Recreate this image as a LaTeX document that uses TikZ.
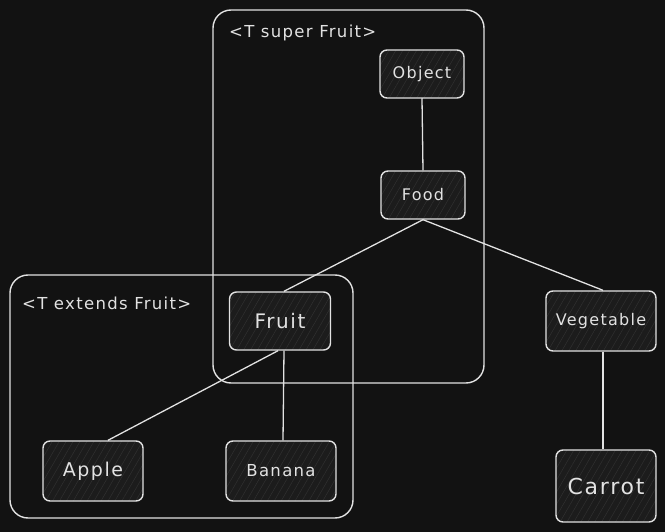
\documentclass[tikz,border=0pt]{standalone}
\usepackage{fontspec}
\setmainfont{DejaVu Sans}[LetterSpace=8]
\usetikzlibrary{patterns.meta}
\definecolor{bg}{HTML}{121212}
\definecolor{ink}{HTML}{E2E2E2}
\definecolor{boxfill}{HTML}{1C1C1C}
\definecolor{hatch}{HTML}{303030}
\tikzset{
  sk/.style={draw=ink, line width=1.4pt, rounded corners=7pt},
  cls/.style={sk, preaction={fill=boxfill}, pattern={Lines[angle=60,distance=6pt,line width=0.5pt]}, pattern color=hatch, minimum height=#1, text=ink, inner sep=0pt},
  cls/.default=48pt,
  grp/.style={draw=ink, line width=1.4pt, rounded corners=18pt},
  lbl/.style={text=ink, anchor=west, inner sep=0pt, font=\fontsize{16.5}{18}\selectfont},
  conn/.style={draw=ink, line width=1.3pt}
}
\begin{document}
\begin{tikzpicture}[x=1pt,y=-1pt]
\fill[bg] (0,0) rectangle (665,532);
\useasboundingbox (0,0) rectangle (665,532);
% containers
\draw[grp] (213,10) rectangle (484,383);
\draw[grp] (10,275) rectangle (353,518);
\node[lbl] (lsuper) at (229,33) {<T super Fruit>};
\node[lbl] (lext) at (22,303) {<T extends Fruit>};
% classes
\node[cls, minimum width=84pt, font=\fontsize{16}{18}\selectfont] (object) at (422,74) {Object};
\node[cls, minimum width=84pt, font=\fontsize{16}{18}\selectfont] (food) at (423,195) {Food};
\node[cls=58pt, minimum width=101pt, font=\fontsize{20}{22}\selectfont] (fruit) at (280,321) {Fruit};
\node[cls=60pt, minimum width=110pt, font=\fontsize{16}{18}\selectfont] (veg) at (601,321) {Vegetable};
\node[cls=60pt, minimum width=100pt, font=\fontsize{19}{21}\selectfont] (apple) at (93,471) {Apple};
\node[cls=60pt, minimum width=110pt, font=\fontsize{16.5}{18}\selectfont] (banana) at (281,471) {Banana};
\node[cls=72pt, minimum width=100pt, font=\fontsize{22}{24}\selectfont] (carrot) at (606,486) {Carrot};
% connectors
\draw[conn] (object.south) -- (food.north);
\draw[conn] (food.south) -- ([xshift=4pt]fruit.north);
\draw[conn] (food.south) -- ([xshift=2pt]veg.north);
\draw[conn] ([xshift=-2pt]fruit.south) -- ([xshift=15pt]apple.north);
\draw[conn] ([xshift=4pt]fruit.south) -- ([xshift=2pt]banana.north);
\draw[conn] ([xshift=2pt]veg.south) -- ([xshift=-3pt]carrot.north);
\end{tikzpicture}
\end{document}
